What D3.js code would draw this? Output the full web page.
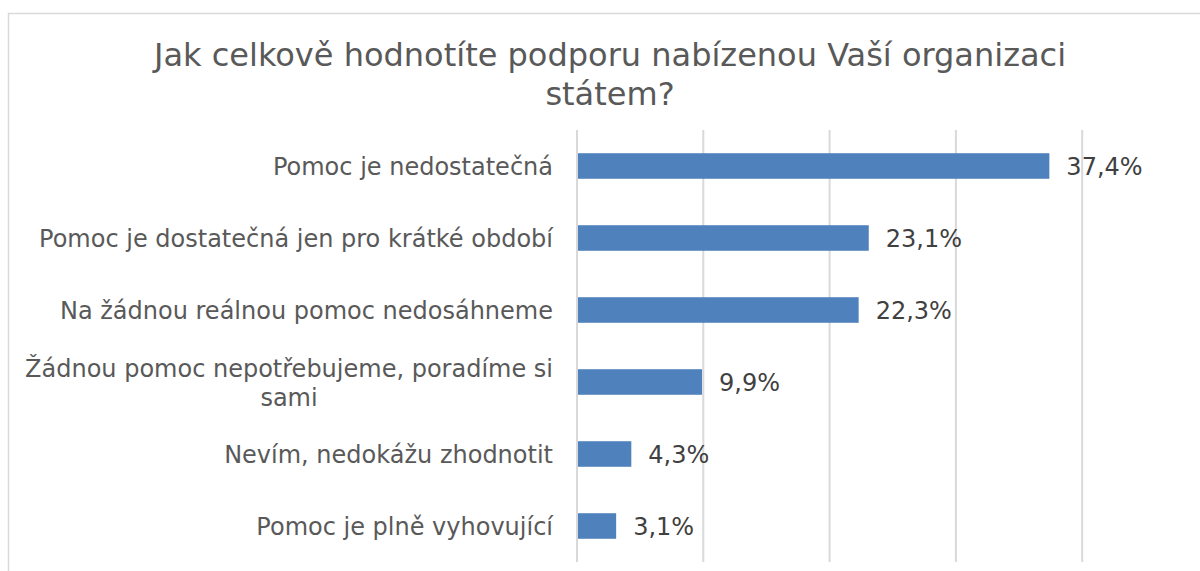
<!DOCTYPE html>
<html>
<head>
<meta charset="utf-8">
<script src="https://cdn.jsdelivr.net/npm/d3@7"></script>
<style>
  body { margin: 0; background: #fff; }
  svg { display: block; }
</style>
</head>
<body>
<script>
// data
const categories = [
    "Pomoc je nedostatečná",
    "Pomoc je dostatečná jen pro krátké období",
    "Na žádnou reálnou pomoc nedosáhneme",
    "Žádnou pomoc nepotřebujeme, poradíme si|sami",
    "Nevím, nedokážu zhodnotit",
    "Pomoc je plně vyhovující"
];
const values = [0.374, 0.231, 0.223, 0.099, 0.043, 0.031];
const titleLines = ["Jak celkově hodnotíte podporu nabízenou Vaší organizaci", "státem?"];
const gridTicks = [0, 0.1, 0.2, 0.3, 0.4, 0.5];

const width = 1200, height = 571;
const font = "'DejaVu Sans', Verdana, sans-serif";
const labelSize = 24;

const svg = d3.select("body").append("svg")
    .attr("width", width)
    .attr("height", height);

// chart border
svg.append("rect")
    .attr("x", 8.5).attr("y", 13.5)
    .attr("width", 1204).attr("height", 600)
    .attr("fill", "none")
    .attr("stroke", "#d9d9d9")
    .attr("stroke-width", 1.5);

// title
svg.append("text")
    .attr("x", 610)
    .attr("y", 66)
    .attr("text-anchor", "middle")
    .style("font-family", font)
    .style("font-size", "32px")
    .style("fill", "#595959")
    .selectAll("tspan")
    .data(titleLines)
    .enter().append("tspan")
    .attr("x", 610)
    .attr("dy", (d, i) => i ? 39 : 0)
    .text(d => d);

const x = d3.scaleLinear().domain([0, 0.5]).range([577, 1208.5]);
const y = d3.scaleBand()
    .domain(categories)
    .range([130, 562])
    .paddingInner(0.645)
    .paddingOuter(0.3225);

// gridlines
svg.append("g").selectAll("line")
    .data(gridTicks)
    .enter().append("line")
    .attr("x1", d => x(d)).attr("x2", d => x(d))
    .attr("y1", 130).attr("y2", 562)
    .attr("stroke", "#d9d9d9")
    .attr("stroke-width", 2);

// bars
svg.append("g").selectAll("rect")
    .data(values)
    .enter().append("rect")
    .attr("x", x(0) + 1)
    .attr("y", (d, i) => y(categories[i]))
    .attr("width", d => x(d) - x(0) - 1)
    .attr("height", y.bandwidth())
    .attr("fill", "#4f81bd");

// value labels
svg.append("g").selectAll("text")
    .data(values)
    .enter().append("text")
    .attr("x", d => x(d) + 17)
    .attr("y", (d, i) => y(categories[i]) + y.bandwidth() / 2)
    .attr("dy", "0.38em")
    .style("font-family", font)
    .style("font-size", labelSize + "px")
    .style("fill", "#404040")
    .text(d => d3.format(".1f")(d * 100).replace(".", ",") + "%");

// category labels (wrapped ones centred on their own block)
const labels = svg.append("g").selectAll("text")
    .data(categories)
    .enter().append("text")
    .attr("y", d => y(d) + y.bandwidth() / 2)
    .style("font-family", font)
    .style("font-size", labelSize + "px")
    .style("fill", "#595959");

labels.each(function (d) {
    const lines = d.split("|");
    const t = d3.select(this);
    if (lines.length == 1) {
        t.attr("x", 553).attr("text-anchor", "end").attr("dy", "0.38em").text(d);
    } else {
        const lh = 29;
        t.attr("text-anchor", "middle");
        const first = t.append("tspan").text(lines[0]);
        const w = first.node().getComputedTextLength();
        const cx = 553 - w / 2;
        t.selectAll("tspan").remove();
        lines.forEach((l, i) => {
            t.append("tspan")
                .attr("x", cx)
                .attr("dy", i == 0 ? (0.38 * labelSize - lh * (lines.length - 1) / 2) : lh)
                .text(l);
        });
    }
});
</script>
</body>
</html>
